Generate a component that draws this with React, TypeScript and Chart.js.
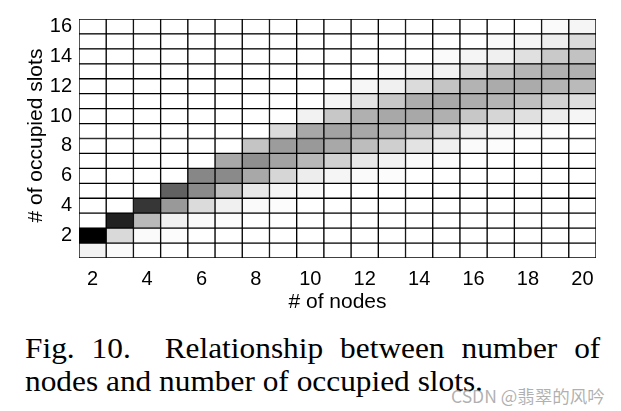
import React, { useEffect, useRef } from "react";
import { Chart, registerables } from "chart.js";

Chart.register(...registerables);

// number of nodes (x categories)
const nodes = [2, 3, 4, 5, 6, 7, 8, 9, 10, 11, 12, 13, 14, 15, 16, 17, 18, 19, 20];
// number of occupied slots (y rows)
const slots = [1, 2, 3, 4, 5, 6, 7, 8, 9, 10, 11, 12, 13, 14, 15, 16];
const xTickLabels = [2, 4, 6, 8, 10, 12, 14, 16, 18, 20];
const yTickLabels = [2, 4, 6, 8, 10, 12, 14, 16];

// probability of each occupied-slot count (index 0 = 1 slot) for each node count
const occupancy: number[][] = [
  [0.05, 1.0, 0, 0, 0, 0, 0, 0, 0, 0, 0, 0, 0, 0, 0, 0],
  [0.02, 0.15, 0.87, 0, 0, 0, 0, 0, 0, 0, 0, 0, 0, 0, 0, 0],
  [0, 0.02, 0.27, 0.79, 0, 0, 0, 0, 0, 0, 0, 0, 0, 0, 0, 0],
  [0, 0.01, 0.06, 0.4, 0.62, 0, 0, 0, 0, 0, 0, 0, 0, 0, 0, 0],
  [0, 0, 0.02, 0.14, 0.46, 0.47, 0, 0, 0, 0, 0, 0, 0, 0, 0, 0],
  [0, 0, 0.01, 0.06, 0.25, 0.46, 0.34, 0, 0, 0, 0, 0, 0, 0, 0, 0],
  [0, 0, 0, 0.02, 0.09, 0.34, 0.44, 0.23, 0, 0, 0, 0, 0, 0, 0, 0],
  [0, 0, 0, 0.01, 0.04, 0.16, 0.36, 0.39, 0.14, 0, 0, 0, 0, 0, 0, 0],
  [0, 0, 0, 0, 0.02, 0.07, 0.28, 0.4, 0.34, 0.05, 0, 0, 0, 0, 0, 0],
  [0, 0, 0, 0, 0, 0.04, 0.18, 0.34, 0.36, 0.22, 0.04, 0, 0, 0, 0, 0],
  [0, 0, 0, 0, 0, 0.02, 0.09, 0.26, 0.34, 0.31, 0.11, 0.03, 0, 0, 0, 0],
  [0, 0, 0, 0, 0, 0.01, 0.05, 0.19, 0.3, 0.34, 0.22, 0.06, 0.02, 0, 0, 0],
  [0, 0, 0, 0, 0, 0, 0.02, 0.11, 0.23, 0.34, 0.32, 0.14, 0.04, 0, 0, 0],
  [0, 0, 0, 0, 0, 0, 0.01, 0.06, 0.15, 0.31, 0.34, 0.23, 0.05, 0.02, 0, 0],
  [0, 0, 0, 0, 0, 0, 0, 0.02, 0.07, 0.22, 0.32, 0.3, 0.14, 0.04, 0, 0],
  [0, 0, 0, 0, 0, 0, 0, 0.01, 0.04, 0.16, 0.29, 0.33, 0.22, 0.06, 0.02, 0],
  [0, 0, 0, 0, 0, 0, 0, 0, 0.02, 0.12, 0.25, 0.33, 0.29, 0.12, 0.04, 0],
  [0, 0, 0, 0, 0, 0, 0, 0, 0.01, 0.07, 0.18, 0.3, 0.31, 0.21, 0.07, 0.02],
  [0, 0, 0, 0, 0, 0, 0, 0, 0, 0.04, 0.13, 0.27, 0.31, 0.24, 0.14, 0.04],
];

const grayOf = (v: number) => {
  const g = Math.round(255 * (1 - Math.min(1, Math.max(0, v))));
  return `rgb(${g},${g},${g})`;
};

function HeatChart() {
  const ref = useRef<HTMLCanvasElement | null>(null);
  useEffect(() => {
    if (!ref.current) return;
    const datasets = slots.map((s, si) => ({
      label: String(s),
      data: nodes.map(() => [s - 0.5, s + 0.5] as [number, number]),
      backgroundColor: nodes.map((_, ni) => grayOf(occupancy[ni][si])),
      borderColor: "#000",
      borderWidth: 1,
      borderSkipped: false as const,
      grouped: false,
      barPercentage: 1,
      categoryPercentage: 1,
    }));
    const chart = new Chart(ref.current, {
      type: "bar",
      data: { labels: nodes.map(String), datasets },
      options: {
        animation: false,
        responsive: false,
        events: [],
        layout: { padding: { left: 0, right: 25, top: 11, bottom: 0 } },
        plugins: { legend: { display: false }, tooltip: { enabled: false } },
        scales: {
          x: {
            type: "category",
            grid: { display: false, drawTicks: false },
            border: { display: false },
            ticks: {
              autoSkip: false,
              maxRotation: 0,
              padding: 9,
              color: "#000",
              font: { family: "'Liberation Sans', Arial, sans-serif", size: 20 },
              callback: (_v: any, i: number) =>
                xTickLabels.includes(nodes[i]) ? String(nodes[i]) : "",
            },
            title: {
              display: true,
              text: "# of nodes",
              color: "#000",
              font: { family: "'Liberation Sans', Arial, sans-serif", size: 21 },
              padding: { top: 0, bottom: 15 },
            },
            afterFit: (scale: any) => {
              scale.height = 72;
            },
          },
          y: {
            type: "linear",
            min: 0.5,
            max: 16.5,
            grid: { display: false, drawTicks: false },
            border: { display: false },
            afterBuildTicks: (scale: any) => {
              scale.ticks = yTickLabels.map((v) => ({ value: v }));
            },
            ticks: {
              padding: 7,
              color: "#000",
              font: { family: "'Liberation Sans', Arial, sans-serif", size: 20 },
            },
            title: {
              display: true,
              text: " # of occupied slots",
              color: "#000",
              font: { family: "'Liberation Sans', Arial, sans-serif", size: 21 },
              padding: { top: 24, bottom: 0 },
            },
            afterFit: (scale: any) => {
              scale.width = 79;
            },
          },
        },
      },
    });
    return () => chart.destroy();
  }, []);
  return <canvas ref={ref} width={621} height={330} style={{ display: "block" }} />;
}

export default function App() {
  return (
    <div
      style={{
        position: "fixed",
        left: 0,
        top: 0,
        width: 621,
        height: 411,
        background: "#fff",
        overflow: "hidden",
      }}
    >
      <div style={{ position: "absolute", left: 0, top: 0 }}>
        <HeatChart />
      </div>
      <div
        style={{
          position: "absolute",
          left: 25,
          top: 332,
          width: 523,
          transform: "scaleX(1.1)",
          transformOrigin: "0 0",
          fontFamily: "'Liberation Serif', 'Times New Roman', serif",
          fontSize: 28.5,
          lineHeight: "33px",
          color: "#000",
          whiteSpace: "nowrap",
        }}
      >
        <div style={{ textAlign: "justify", textAlignLast: "justify" as any, whiteSpace: "normal" }}>
          Fig. 10.&nbsp; Relationship between number of
        </div>
        <div>nodes and number of occupied slots.</div>
      </div>
      <div
        style={{
          position: "absolute",
          left: 451,
          top: 383,
          fontFamily: "'Noto Sans CJK SC', 'Noto Sans', sans-serif",
          fontSize: 17.5,
          color: "rgba(150,150,150,0.75)",
          whiteSpace: "nowrap",
        }}
      >
        CSDN @翡翠的风吟
      </div>
    </div>
  );
}
